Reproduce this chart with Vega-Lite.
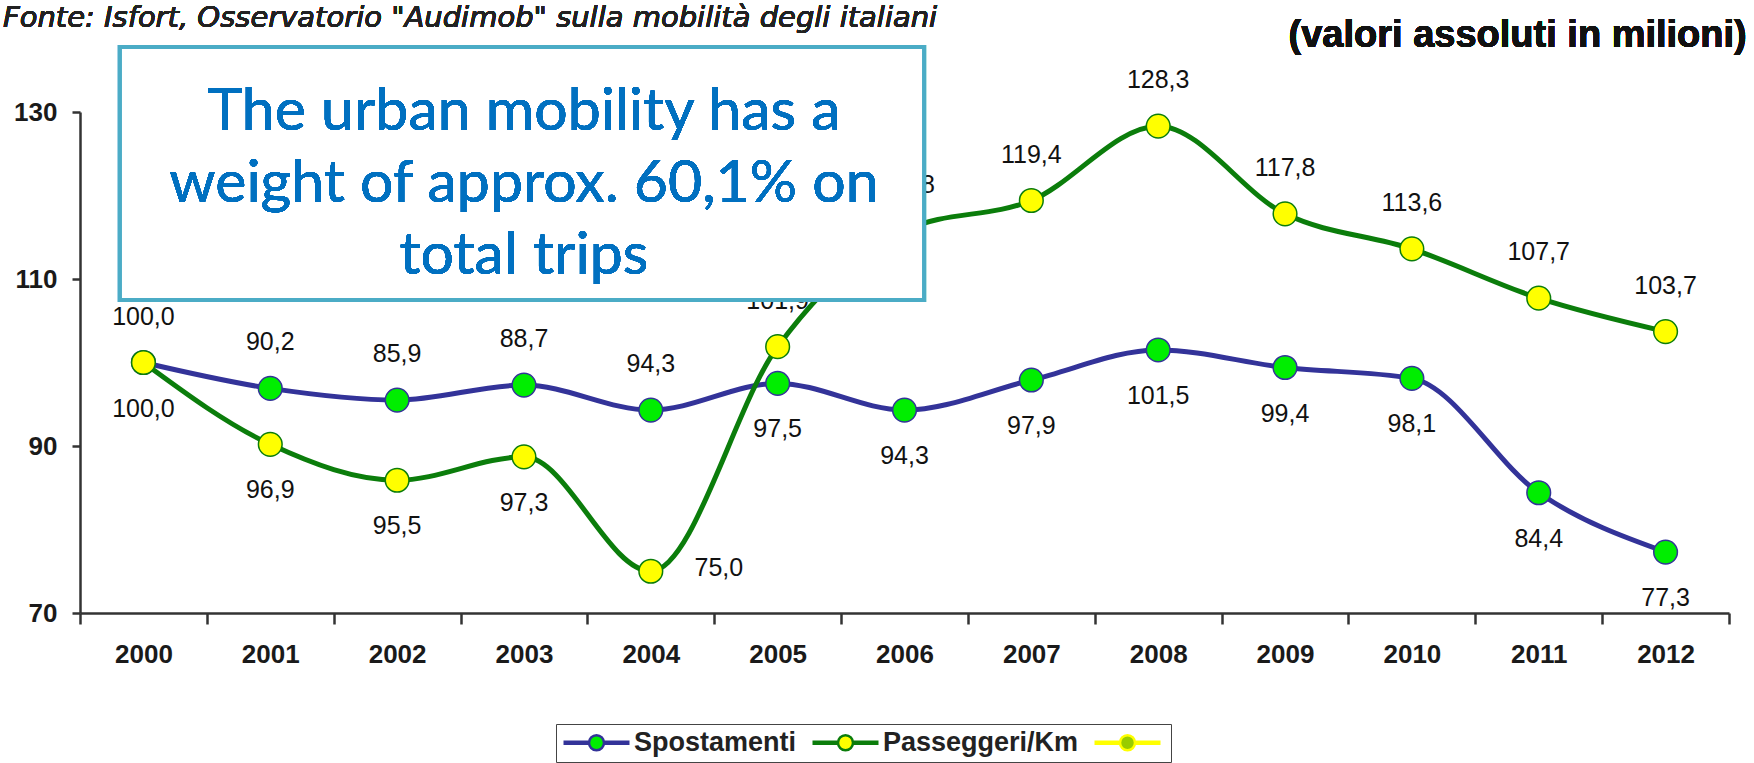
{
  "$schema": "https://vega.github.io/schema/vega-lite/v6.json",
  "width": 1649,
  "height": 501,
  "autosize": {"type": "none"},
  "padding": {"left": 80, "top": 112, "right": 25, "bottom": 150},
  "background": "white",
  "config": {
    "view": {"stroke": null},
    "locale": {"number": {"decimal": ",", "thousands": ".", "grouping": [3], "currency": ["€", ""]}},
    "legend": {
      "symbolSize": 4356,
      "symbolStrokeWidth": 2.5,
      "symbolOpacity": 1,
      "clipHeight": 25,
      "labelFont": "Liberation Sans",
      "labelFontSize": 27,
      "labelFontWeight": "bold",
      "labelColor": "#222222",
      "labelLimit": 500,
      "labelOffset": 3,
      "columnPadding": 14,
      "padding": 6,
      "strokeColor": "#444444"
    }
  },
  "data": {
    "values": [
      {"year": 2000, "spostamenti": 100.0, "passeggeri_km": 100.0},
      {"year": 2001, "spostamenti": 96.9, "passeggeri_km": 90.2},
      {"year": 2002, "spostamenti": 95.5, "passeggeri_km": 85.9},
      {"year": 2003, "spostamenti": 97.3, "passeggeri_km": 88.7},
      {"year": 2004, "spostamenti": 94.3, "passeggeri_km": 75.0},
      {"year": 2005, "spostamenti": 97.5, "passeggeri_km": 101.9},
      {"year": 2006, "spostamenti": 94.3, "passeggeri_km": 115.8},
      {"year": 2007, "spostamenti": 97.9, "passeggeri_km": 119.4},
      {"year": 2008, "spostamenti": 101.5, "passeggeri_km": 128.3},
      {"year": 2009, "spostamenti": 99.4, "passeggeri_km": 117.8},
      {"year": 2010, "spostamenti": 98.1, "passeggeri_km": 113.6},
      {"year": 2011, "spostamenti": 84.4, "passeggeri_km": 107.7},
      {"year": 2012, "spostamenti": 77.3, "passeggeri_km": 103.7}
    ]
  },
  "layer": [
    {
      "mark": {"type": "line", "interpolate": "monotone", "strokeWidth": 5},
      "encoding": {
        "x": {
          "field": "year", "type": "ordinal",
          "scale": {"paddingInner": 0, "paddingOuter": 0},
          "axis": {
            "title": null, "labelAngle": 0, "tickBand": "extent", "tickSize": 11,
            "labelPadding": 17, "labelFont": "Liberation Sans", "labelFontSize": 26,
            "labelFontWeight": "bold", "labelColor": "#1a1a1a",
            "domainColor": "#333333", "domainWidth": 2.5, "tickColor": "#333333", "tickWidth": 2.5, "grid": false
          }
        },
        "y": {
          "field": "spostamenti", "type": "quantitative",
          "scale": {"domain": [70, 130], "nice": false, "zero": false},
          "axis": {
            "title": null, "values": [70, 90, 110, 130], "grid": false, "tickSize": 8,
            "labelPadding": 15, "labelFont": "Liberation Sans", "labelFontSize": 26,
            "labelFontWeight": "bold", "labelColor": "#1a1a1a",
            "domainColor": "#333333", "domainWidth": 2.5, "tickColor": "#333333", "tickWidth": 2.5
          }
        },
        "stroke": {
          "datum": "Spostamenti", "type": "nominal",
          "scale": {"domain": ["Spostamenti", "Passeggeri/Km", " "], "range": ["#333399", "#0B7D0B", "#FFFF00"]},
          "legend": {"orient": "none", "legendX": 476, "legendY": 612, "direction": "horizontal", "title": null,
            "symbolType": "M-1,-0.03H-0.227M-1,0.03H-0.227M0.227,-0.03H1M0.227,0.03H1M-0.227,0A0.227,0.227 0 1,1 0.227,0A0.227,0.227 0 1,1 -0.227,0Z"}
        }
      }
    },
    {
      "mark": {"type": "point", "shape": "circle", "filled": true, "size": 560, "strokeWidth": 1.5, "opacity": 1},
      "encoding": {
        "x": {"field": "year", "type": "ordinal"},
        "y": {"field": "spostamenti", "type": "quantitative"},
        "fill": {
          "datum": "Spostamenti", "type": "nominal",
          "scale": {"domain": ["Spostamenti", "Passeggeri/Km", " "], "range": ["#00EE00", "#FFFF00", "#99CC00"]},
          "legend": {"orient": "none", "legendX": 476, "legendY": 612, "direction": "horizontal", "title": null,
            "symbolType": "M-1,-0.03H-0.227M-1,0.03H-0.227M0.227,-0.03H1M0.227,0.03H1M-0.227,0A0.227,0.227 0 1,1 0.227,0A0.227,0.227 0 1,1 -0.227,0Z"}
        },
        "stroke": {"datum": "Spostamenti", "type": "nominal"}
      }
    },
    {
      "mark": {"type": "line", "interpolate": "monotone", "strokeWidth": 5},
      "encoding": {
        "x": {"field": "year", "type": "ordinal"},
        "y": {"field": "passeggeri_km", "type": "quantitative"},
        "stroke": {"datum": "Passeggeri/Km", "type": "nominal"}
      }
    },
    {
      "mark": {"type": "point", "shape": "circle", "filled": true, "size": 560, "strokeWidth": 1.5, "opacity": 1},
      "encoding": {
        "x": {"field": "year", "type": "ordinal"},
        "y": {"field": "passeggeri_km", "type": "quantitative"},
        "fill": {"datum": "Passeggeri/Km", "type": "nominal"},
        "stroke": {"datum": "Passeggeri/Km", "type": "nominal"}
      }
    },
    {
      "transform": [
        {"fold": ["spostamenti", "passeggeri_km"], "as": ["series", "v"]},
        {"aggregate": [
          {"op": "max", "field": "v", "as": "hi"},
          {"op": "min", "field": "v", "as": "lo"},
          {"op": "max", "field": "spostamenti", "as": "sp"},
          {"op": "max", "field": "passeggeri_km", "as": "pk"}
        ], "groupby": ["year"]},
        {"filter": "datum.lo >= 76"}
      ],
      "layer": [
        {
          "mark": {"type": "text", "dy": -46, "font": "Liberation Sans", "fontSize": 25, "color": "#111111", "baseline": "middle"},
          "encoding": {
            "x": {"field": "year", "type": "ordinal"},
            "y": {"field": "hi", "type": "quantitative"},
            "text": {"field": "pk", "type": "quantitative", "format": ".1f"}
          }
        },
        {
          "mark": {"type": "text", "dy": 46, "font": "Liberation Sans", "fontSize": 25, "color": "#111111", "baseline": "middle"},
          "encoding": {
            "x": {"field": "year", "type": "ordinal"},
            "y": {"field": "lo", "type": "quantitative"},
            "text": {"field": "sp", "type": "quantitative", "format": ".1f"}
          }
        }
      ]
    },
    {
      "transform": [
        {"fold": ["spostamenti", "passeggeri_km"], "as": ["series", "v"]},
        {"aggregate": [
          {"op": "max", "field": "v", "as": "hi"},
          {"op": "min", "field": "v", "as": "lo"}
        ], "groupby": ["year"]},
        {"filter": "datum.lo < 76"}
      ],
      "layer": [
        {
          "mark": {"type": "text", "dy": -46, "font": "Liberation Sans", "fontSize": 25, "color": "#111111", "baseline": "middle"},
          "encoding": {
            "x": {"field": "year", "type": "ordinal"},
            "y": {"field": "hi", "type": "quantitative"},
            "text": {"field": "hi", "type": "quantitative", "format": ".1f"}
          }
        },
        {
          "mark": {"type": "text", "dx": 68, "dy": -3, "font": "Liberation Sans", "fontSize": 25, "color": "#111111", "baseline": "middle"},
          "encoding": {
            "x": {"field": "year", "type": "ordinal"},
            "y": {"field": "lo", "type": "quantitative"},
            "text": {"field": "lo", "type": "quantitative", "format": ".1f"}
          }
        }
      ]
    },
    {
      "mark": {"type": "rect", "fill": "white", "stroke": "#4BACC6", "strokeWidth": 4},
      "encoding": {
        "x": {"datum": 2000, "type": "ordinal", "bandPosition": 0.315},
        "x2": {"datum": 2006, "bandPosition": 0.654},
        "y": {"datum": 137.79, "type": "quantitative"},
        "y2": {"datum": 107.49}
      }
    },
    {
      "mark": {
        "type": "text", "text": ["The urban mobility has a", "weight of approx. 60,1% on", "total trips"],
        "font": "Lato", "fontSize": 59, "lineHeight": 72, "color": "#0070C0", "align": "center", "baseline": "alphabetic"
      },
      "encoding": {
        "x": {"datum": 2003, "type": "ordinal", "bandPosition": 0.5},
        "y": {"datum": 127.85, "type": "quantitative"}
      }
    },
    {
      "mark": {
        "type": "text", "text": "(valori assoluti in milioni)",
        "font": "Liberation Sans", "fontSize": 38, "fontWeight": "bold", "color": "#111111", "align": "right", "baseline": "middle"
      },
      "encoding": {
        "x": {"datum": 2012, "type": "ordinal", "bandPosition": 1.14},
        "y": {"datum": 139.1, "type": "quantitative"}
      }
    },
    {
      "mark": {
        "type": "text", "text": "Fonte: Isfort, Osservatorio \"Audimob\" sulla mobilità degli italiani",
        "font": "DejaVu Sans", "fontSize": 29, "fontStyle": "italic", "color": "#222222", "align": "left", "baseline": "middle"
      },
      "encoding": {
        "x": {"datum": 2000, "type": "ordinal", "bandPosition": -0.607},
        "y": {"datum": 141.2, "type": "quantitative"}
      }
    }
  ]
}
